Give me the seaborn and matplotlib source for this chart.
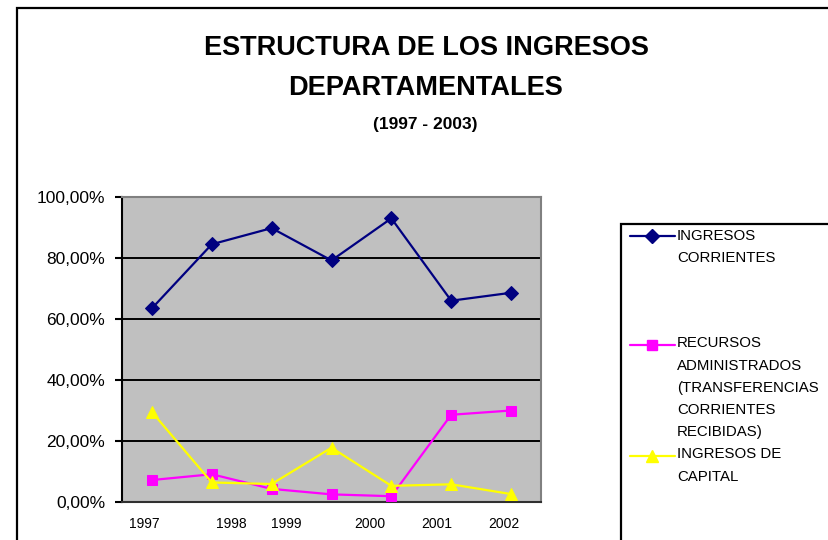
import matplotlib
matplotlib.use("Agg")
import matplotlib.pyplot as plt
import seaborn as sns
import pandas as pd
from matplotlib.lines import Line2D
from matplotlib.patches import Rectangle
from matplotlib.ticker import FuncFormatter

# ---- data ----
periods = [0, 1, 2, 3, 4, 5, 6]
tick_labels = ["1997", "1998", "1999", "2000", "2001", "2002"]
ingresos_corrientes = [63.5, 84.5, 89.8, 79.2, 93.0, 66.0, 68.6]
recursos_administrados = [7.2, 9.1, 4.3, 2.5, 1.9, 28.6, 30.0]
ingresos_capital = [29.5, 6.4, 5.9, 17.8, 5.3, 5.8, 2.6]
series_names = ["INGRESOS CORRIENTES",
                "RECURSOS ADMINISTRADOS (TRANSFERENCIAS CORRIENTES RECIBIDAS)",
                "INGRESOS DE CAPITAL"]
legend_lines = [["INGRESOS", "CORRIENTES"],
                ["RECURSOS", "ADMINISTRADOS", "(TRANSFERENCIAS", "CORRIENTES", "RECIBIDAS)"],
                ["INGRESOS DE", "CAPITAL"]]

# ---- layout / style ----
tick_label_pos = [-0.12, 1.33, 2.25, 3.64, 4.76, 5.88]
colors = ["#000080", "#FF00FF", "#FFFF00"]
markers = ["D", "s", "^"]
msizes = [7, 6.5, 8.5]

sns.set_theme(style="white")
plt.rcParams["font.family"] = ["Liberation Sans", "DejaVu Sans"]
plt.rcParams["text.color"] = "black"
plt.rcParams["xtick.color"] = "black"
plt.rcParams["ytick.color"] = "black"

W, H = 829, 540
fig = plt.figure(figsize=(W / 100, H / 100), dpi=100)
fig.patch.set_facecolor("white")

ax = fig.add_axes([122 / W, 1 - 502 / H, (541 - 122) / W, (502 - 197) / H])
ax.set_facecolor("#C0C0C0")

df = pd.DataFrame({
    "x": periods * 3,
    "v": ingresos_corrientes + recursos_administrados + ingresos_capital,
    "s": [series_names[0]] * 7 + [series_names[1]] * 7 + [series_names[2]] * 7,
})
for name, c, m, ms in zip(series_names, colors, markers, msizes):
    sub = df[df["s"] == name]
    sns.lineplot(data=sub, x="x", y="v", ax=ax, color=c, marker=m,
                 markersize=ms, markeredgecolor=c, markerfacecolor=c,
                 linewidth=1.6, legend=False, zorder=3)

ax.set_xlim(-0.5, 6.5)
ax.set_ylim(0, 100)
ax.set_yticks([0, 20, 40, 60, 80, 100])
ax.yaxis.set_major_formatter(FuncFormatter(lambda v, p: f"{v:.2f}".replace(".", ",") + "%"))
ax.set_xticks(tick_label_pos)
ax.set_xticklabels(tick_labels)
ax.set_xlabel("")
ax.set_ylabel("")
ax.tick_params(axis="x", length=0, pad=11, labelsize=10, labelcolor="black")
ax.tick_params(axis="y", length=5, width=1.5, direction="out", pad=7,
               labelsize=12.5, colors="black", labelcolor="black", left=True)
ax.grid(axis="y", color="black", linewidth=1.4)
ax.grid(axis="x", visible=False)
ax.set_axisbelow(True)
for side in ["top", "right"]:
    ax.spines[side].set_color("#808080")
    ax.spines[side].set_linewidth(1.5)
ax.spines["left"].set_color("black")
ax.spines["left"].set_linewidth(1.5)
ax.spines["bottom"].set_color("#303030")
ax.spines["bottom"].set_linewidth(1.5)

# ---- titles ----
fig.text(426 / W, 1 - 48 / H, "ESTRUCTURA DE LOS INGRESOS", ha="center", va="center",
         fontsize=19.5, fontweight="bold", color="black")
fig.text(426 / W, 1 - 88 / H, "DEPARTAMENTALES", ha="center", va="center",
         fontsize=19.5, fontweight="bold", color="black")
fig.text(425 / W, 1 - 125 / H, "(1997 - 2003)", ha="center", va="center",
         fontsize=12.5, fontweight="bold", color="black")

# ---- frames ----
fig.add_artist(Rectangle((17 / W, -0.05), 1.2, 1.05 - 8 / H, transform=fig.transFigure,
                         fill=False, edgecolor="black", linewidth=1.6))
fig.add_artist(Rectangle((621 / W, -0.05), 0.6, 1.05 - 224 / H, transform=fig.transFigure,
                         fill=False, edgecolor="black", linewidth=1.6))

# ---- legend ----
handle_y = [236, 345, 456]
text_y = [[236, 258], [343, 366, 388, 410, 432], [454, 477]]
for c, m, ms, hy, lines, ty in zip(colors, markers, msizes, handle_y, legend_lines, text_y):
    fig.add_artist(Line2D([630 / W, 675 / W], [1 - hy / H, 1 - hy / H], transform=fig.transFigure,
                          color=c, linewidth=1.6))
    fig.add_artist(Line2D([652 / W], [1 - hy / H], transform=fig.transFigure, color=c,
                          marker=m, markersize=ms, markerfacecolor=c, markeredgecolor=c))
    for t, yy in zip(lines, ty):
        fig.text(677 / W, 1 - yy / H, t, ha="left", va="center", fontsize=10.8, color="black")

fig.savefig("out.png", dpi=100)
